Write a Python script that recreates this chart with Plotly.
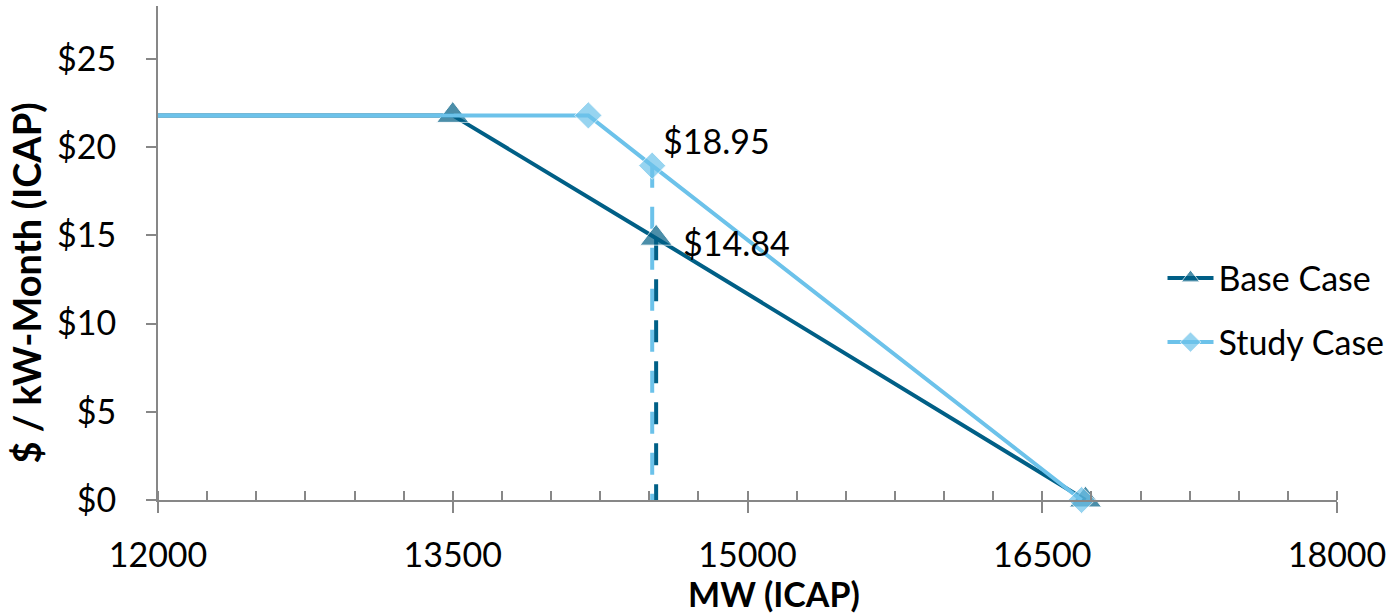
import plotly.graph_objects as go

# Demand curve break points (MW ICAP, $/kW-Month)
base_mw = [11500, 13500, 14535, 16720]
base_price = [21.8, 21.8, 14.84, 0.0]
study_mw = [11500, 14190, 14515, 16700]
study_price = [21.8, 21.8, 18.95, 0.0]

# Clearing points marked with vertical guides and value labels
base_clear_mw = 14535
base_clear_price = 14.84
study_clear_mw = 14515
study_clear_price = 18.95

x_ticks = [12000, 13500, 15000, 16500, 18000]
y_ticks = [0, 5, 10, 15, 20, 25]
y_tick_text = ["$0", "$5", "$10", "$15", "$20", "$25"]

DARK = "#005F86"
LIGHT = "#6CC2EA"
AXIS = "#878787"
FONT = "Lato"
FS = 34

fig = go.Figure()

# Vertical guides from each clearing price down to the axis
fig.add_trace(go.Scatter(
    x=[study_clear_mw, study_clear_mw], y=[study_clear_price, 0],
    mode="lines", line=dict(color=LIGHT, width=4, dash="22px,19px"),
    showlegend=False, hoverinfo="skip", cliponaxis=False))
fig.add_trace(go.Scatter(
    x=[base_clear_mw, base_clear_mw], y=[base_clear_price, 0],
    mode="lines", line=dict(color=DARK, width=4, dash="22px,19px"),
    showlegend=False, hoverinfo="skip", cliponaxis=False))

fig.add_trace(go.Scatter(
    x=base_mw, y=base_price, name="Base Case", mode="lines+markers",
    line=dict(color=DARK, width=4), cliponaxis=False,
    marker=dict(symbol="triangle-up", size=[0, 28, 28, 28], color=DARK),
    legendgroup="base"))
fig.add_trace(go.Scatter(
    x=study_mw, y=study_price, name="Study Case", mode="lines+markers",
    line=dict(color=LIGHT, width=4), cliponaxis=False,
    marker=dict(symbol="diamond", size=[0, 21, 21, 21], color=LIGHT),
    legendgroup="study"))

# Price labels at the clearing points
fig.add_annotation(x=study_clear_mw, y=study_clear_price,
                   text=f"${study_clear_price:.2f}", showarrow=False,
                   xanchor="left", yanchor="middle", xshift=9, yshift=25,
                   font=dict(family=FONT, size=FS, color="black"))
fig.add_annotation(x=base_clear_mw, y=base_clear_price,
                   text=f"${base_clear_price:.2f}", showarrow=False,
                   xanchor="left", yanchor="middle", xshift=25, yshift=-4,
                   font=dict(family=FONT, size=FS, color="black"))

# Axis titles
fig.add_annotation(xref="paper", yref="paper", x=0.5225, y=-0.19,
                   text="<b>MW (ICAP)</b>", showarrow=False,
                   xanchor="center", yanchor="middle",
                   font=dict(family=FONT, size=FS, color="black"))
fig.add_annotation(xref="paper", yref="paper", x=-0.112, y=0.44,
                   text="<b>$ / kW-Month (ICAP)</b>", showarrow=False,
                   textangle=-90, xanchor="center", yanchor="middle",
                   font=dict(family=FONT, size=38, color="black"))

fig.update_layout(
    width=1391, height=616,
    margin=dict(l=158, r=54, t=6, b=116, autoexpand=False),
    plot_bgcolor="white", paper_bgcolor="white",
    font=dict(family=FONT, size=FS, color="black"),
    xaxis=dict(
        range=[12000, 18000], tickvals=x_ticks, ticktext=[str(v) for v in x_ticks],
        showgrid=False, zeroline=False, showline=True, linecolor=AXIS, linewidth=2,
        ticks="outside", ticklen=11, tickwidth=2, tickcolor=AXIS,
        ticklabelstandoff=13, automargin=False,
        minor=dict(dtick=250, tick0=12000, ticks="inside", ticklen=9,
                   tickwidth=2, tickcolor=AXIS, showgrid=False),
        tickfont=dict(family=FONT, size=FS)),
    xaxis2=dict(
        range=[12000, 18000], overlaying="x", anchor="y", side="bottom",
        tickvals=x_ticks, showticklabels=False, showgrid=False, zeroline=False,
        ticks="inside", ticklen=9, tickwidth=2, tickcolor=AXIS, showline=False),
    yaxis=dict(
        range=[0, 28], tickvals=y_ticks, ticktext=y_tick_text,
        showgrid=False, zeroline=False, showline=True, linecolor=AXIS, linewidth=2,
        ticks="outside", ticklen=10, tickwidth=2, tickcolor=AXIS, automargin=False,
        ticklabelstandoff=23, tickfont=dict(family=FONT, size=FS)),
    legend=dict(x=0.852, y=0.384, xanchor="left", yanchor="middle",
                bgcolor="rgba(0,0,0,0)", font=dict(family=FONT, size=FS),
                tracegroupgap=17, itemwidth=46),
    showlegend=True,
)

# Empty trace to bring the inner major ticks onto the axis
fig.add_trace(go.Scatter(x=[], y=[], xaxis="x2", showlegend=False))

fig.write_html("out.html")
